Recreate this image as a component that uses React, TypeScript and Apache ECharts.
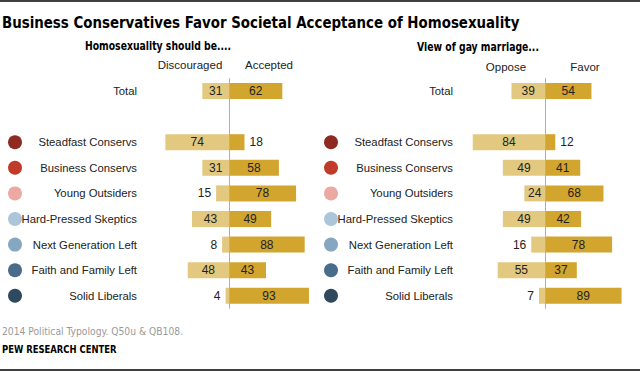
import React, { useEffect, useRef } from "react";
import * as echarts from "echarts";

const categories = [
  "Total",
  "",
  "Steadfast Conservs",
  "Business Conservs",
  "Young Outsiders",
  "Hard-Pressed Skeptics",
  "Next Generation Left",
  "Faith and Family Left",
  "Solid Liberals",
];
const discouraged = [31, null, 74, 31, 15, 43, 8, 48, 4];
const accepted = [62, null, 18, 58, 78, 49, 88, 43, 93];
const oppose = [39, null, 84, 49, 24, 49, 16, 55, 7];
const favor = [54, null, 12, 41, 68, 42, 78, 37, 89];
const dotColors = [null, null, "#8E2A21", "#C13B2B", "#EBA9A1", "#ADC5DA", "#86A7C2", "#486C8A", "#2F4A5E"];

const LIGHT = "#E3C97F";
const DARK = "#D2A52F";
const FONT = "'Liberation Sans', Arial, sans-serif";
const NARROW = "'Liberation Sans Narrow', 'DejaVu Sans Condensed', Arial, sans-serif";

const GRID_TOP = 78.2;
const GRID_H = 230.4;

function barSeries(values: (number | null)[], neg: boolean, color: string, idx: number, mark: boolean) {
  return {
    type: "bar",
    stack: "s" + idx,
    xAxisIndex: idx,
    yAxisIndex: idx,
    barWidth: 16,
    itemStyle: { color },
    label: {
      show: true,
      fontSize: 12,
      color: "#222",
      fontFamily: FONT,
      formatter: (p: any) => String(Math.abs(p.value)),
    },
    data: values.map((v) =>
      v == null
        ? "-"
        : {
            value: neg ? -v : v,
            label: {
              position: v < 20 ? (neg ? "left" : "right") : "inside",
              distance: 5,
            },
          }
    ),
    markLine: mark
      ? {
          silent: true,
          symbol: "none",
          label: { show: false },
          lineStyle: { color: "#AFAFAF", width: 1, type: "solid" },
          data: [{ xAxis: 0 }],
        }
      : undefined,
  };
}

export default function App() {
  const ref = useRef<HTMLDivElement>(null);
  useEffect(() => {
    if (!ref.current) return;
    const chart = echarts.init(ref.current, null, { renderer: "svg" });
    const gridDefs = [
      { left: 143, width: 172 },
      { left: 459, width: 172 },
      { left: 8, width: 14 },
      { left: 324, width: 14 },
    ];
    chart.setOption({
      animation: false,
      grid: gridDefs.map((g) => ({ ...g, top: GRID_TOP, height: GRID_H })),
      xAxis: gridDefs.map((_, i) => ({
        type: "value",
        gridIndex: i,
        min: i < 2 ? -100 : 0,
        max: i < 2 ? 100 : 1,
        show: false,
      })),
      yAxis: gridDefs.map((_, i) => ({
        type: "category",
        gridIndex: i,
        inverse: true,
        data: categories,
        show: i < 2,
        axisLine: { show: false },
        axisTick: { show: false },
        axisLabel: {
          margin: 6,
          fontSize: 11.3,
          color: "#222",
          fontFamily: FONT,
        },
      })),
      series: [
        barSeries(discouraged, true, LIGHT, 0, true),
        barSeries(accepted, false, DARK, 0, false),
        barSeries(oppose, true, LIGHT, 1, true),
        barSeries(favor, false, DARK, 1, false),
        ...[2, 3].map((gi) => ({
          type: "scatter",
          xAxisIndex: gi,
          yAxisIndex: gi,
          symbolSize: 14,
          itemStyle: { opacity: 1 },
          data: dotColors.map((c, i) =>
            c == null ? "-" : { value: [0.5, i], itemStyle: { color: c, opacity: 1 } }
          ),
        })),
      ],
      graphic: [
        { type: "line", shape: { x1: 0, y1: 1, x2: 640, y2: 1 }, style: { stroke: "#000", lineWidth: 1.5 } },
        { type: "line", shape: { x1: 0, y1: 370, x2: 640, y2: 370 }, style: { stroke: "#000", lineWidth: 1.5 } },
        {
          type: "text", x: 2, y: 23, scaleX: 0.93,
          style: { text: "Business Conservatives Favor Societal Acceptance of Homosexuality", font: `bold 16px ${NARROW}`, fill: "#000", verticalAlign: "middle" },
        },
        {
          type: "text", x: 158, y: 46, scaleX: 0.86,
          style: { text: "Homosexuality should be....", font: `bold 12px ${NARROW}`, fill: "#000", align: "center", verticalAlign: "middle" },
        },
        {
          type: "text", x: 478, y: 47, scaleX: 0.86,
          style: { text: "View of gay marriage...", font: `bold 12px ${NARROW}`, fill: "#000", align: "center", verticalAlign: "middle" },
        },
        { type: "text", x: 190, y: 65, style: { text: "Discouraged", font: `11.5px ${FONT}`, fill: "#222", align: "center", verticalAlign: "middle" } },
        { type: "text", x: 269, y: 65, style: { text: "Accepted", font: `11.5px ${FONT}`, fill: "#222", align: "center", verticalAlign: "middle" } },
        { type: "text", x: 506, y: 67, style: { text: "Oppose", font: `11.5px ${FONT}`, fill: "#222", align: "center", verticalAlign: "middle" } },
        { type: "text", x: 585, y: 67, style: { text: "Favor", font: `11.5px ${FONT}`, fill: "#222", align: "center", verticalAlign: "middle" } },
        { type: "text", x: 2, y: 331, scaleX: 0.93, style: { text: "2014 Political Typology. Q50u & QB108.", font: `11px ${NARROW}`, fill: "#999", verticalAlign: "middle" } },
        { type: "text", x: 2, y: 349, scaleX: 0.94, style: { text: "PEW RESEARCH CENTER", font: `bold 10px ${NARROW}`, fill: "#000", verticalAlign: "middle" } },
      ],
    });
    return () => chart.dispose();
  }, []);
  return <div ref={ref} style={{ position: "fixed", left: 0, top: 0, width: 640, height: 372, background: "#fff" }} />;
}
